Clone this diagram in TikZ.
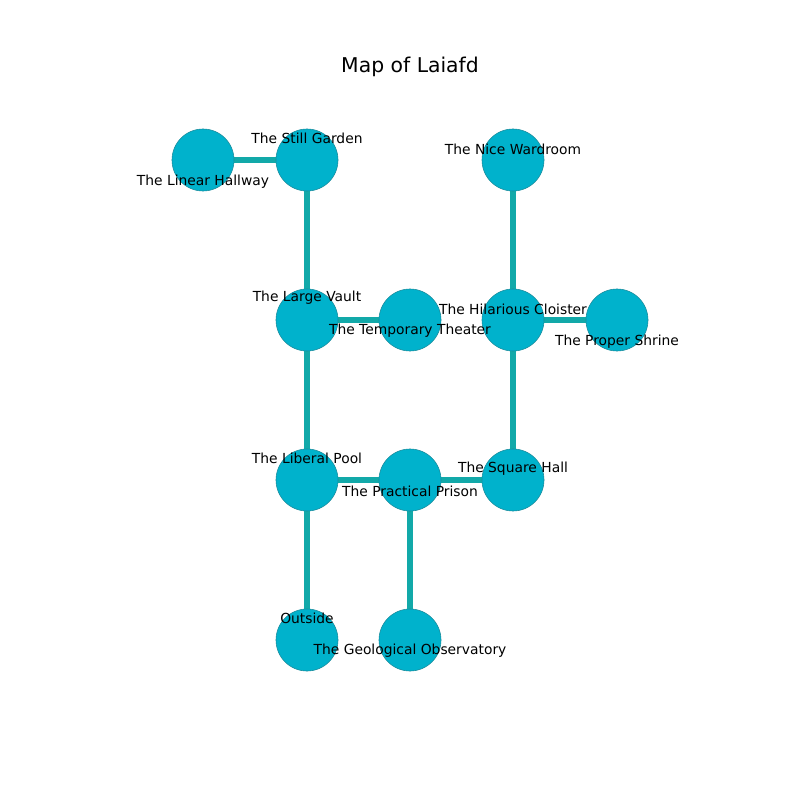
\documentclass[tikz,border=0pt]{standalone}
\usepackage{fontspec}
\setmainfont{DejaVu Sans}
\usetikzlibrary{backgrounds}
\definecolor{nodefill}{HTML}{00B2CC}
\definecolor{nodeedge}{HTML}{1A8A9A}
\definecolor{edgecol}{HTML}{12A9A9}
\begin{document}
\begin{tikzpicture}[x=0.01in,y=-0.01in,
  roomc/.style={circle,fill=nodefill,draw=nodeedge,line width=0.4pt,minimum size=0.62in,inner sep=0pt},
  passage/.style={draw=edgecol,line width=4pt},
  lbl/.style={font=\fontsize{10}{12}\selectfont,inner sep=0pt,anchor=center}]
\useasboundingbox (0,0) rectangle (800,800);
\node[font=\fontsize{14.7}{17}\selectfont] (title) at (410,67) {Map of Laiafd};
% rooms
\node[roomc] (lh) at (203,160) {};
\node[roomc] (sg) at (307,160) {};
\node[roomc] (nw) at (513,160) {};
\node[roomc] (lv) at (307,320) {};
\node[roomc] (tt) at (410,320) {};
\node[roomc] (hc) at (513,320) {};
\node[roomc] (ps) at (617,320) {};
\node[roomc] (lp) at (307,480) {};
\node[roomc] (pp) at (410,480) {};
\node[roomc] (sh) at (513,480) {};
\node[roomc] (out) at (307,640) {};
\node[roomc] (go) at (410,640) {};
% passages behind rooms
\begin{scope}[on background layer]
\draw[passage] (lh.center) -- (sg.center);
\draw[passage] (sg.center) -- (lv.center);
\draw[passage] (lv.center) -- (tt.center);
\draw[passage] (lv.center) -- (lp.center);
\draw[passage] (nw.center) -- (hc.center);
\draw[passage] (hc.center) -- (ps.center);
\draw[passage] (hc.center) -- (sh.center);
\draw[passage] (lp.center) -- (pp.center);
\draw[passage] (pp.center) -- (sh.center);
\draw[passage] (lp.center) -- (out.center);
\draw[passage] (pp.center) -- (go.center);
\end{scope}
% labels
\node[lbl] (llh) at (203,182) {The Linear Hallway};
\node[lbl] (lsg) at (307,138) {The Still Garden};
\node[lbl] (lnw) at (513,149) {The Nice Wardroom};
\node[lbl] (llv) at (307,298) {The Large Vault};
\node[lbl] (ltt) at (410,331) {The Temporary Theater};
\node[lbl] (lhc) at (513,309) {The Hilarious Cloister};
\node[lbl] (lps) at (617,342) {The Proper Shrine};
\node[lbl] (llp) at (307,458) {The Liberal Pool};
\node[lbl] (lpp) at (410,491) {The Practical Prison};
\node[lbl] (lsh) at (513,469) {The Square Hall};
\node[lbl] (lout) at (307,618) {Outside};
\node[lbl] (lgo) at (410,651) {The Geological Observatory};
\end{tikzpicture}
\end{document}
